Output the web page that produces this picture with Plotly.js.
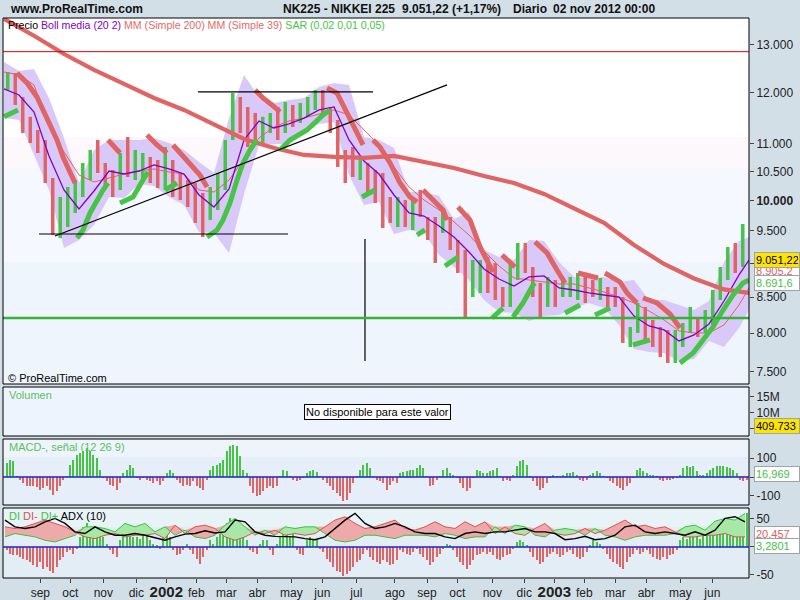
<!DOCTYPE html>
<html><head><meta charset="utf-8">
<script src="https://cdn.plot.ly/plotly-3.0.1.min.js"></script>
<style>html,body{margin:0;padding:0;background:#d3dfe7;}#chart{width:800px;height:600px;}</style>
</head><body><div id="chart"></div>
<script>
// ---------- DATA (x unit = weeks from start of chart) ----------
// Weekly price ranges (high / low) and direction (1 = up/green, 0 = down/red)
const weekHigh = [12418,12397,11906,11514,11262,11074,10387,10060,10231,10352,
10653,10889,11074,10653,10528,10834,11130,10889,10834,10762,
10707,10944,10707,10475,10352,10300,10128,10231,10475,11074,
11986,11906,11707,11590,11514,11590,11707,11806,11747,11786,
11906,12047,12047,11707,11453,10889,10944,10762,10653,10528,
10475,10060,10060,10009,10060,10179,9727,9727,9842,9727,
9357,9201,9047,9047,9093,9001,8645,9001,9310,9310,
8941,8703,8792,8747,8792,8792,8851,8792,8747,8777,
8645,8645,8500,8082,8415,8359,8177,8082,8041,8041,
8136,8359,8218,8316,8601,8941,9247,9310,9612];
const weekLow = [12047,11747,11205,11018,10834,10300,9436,9389,9564,9793,
10060,10352,10475,10231,10060,10179,10405,10352,10352,10300,
10214,10179,10060,10009,9892,9630,9405,9678,9842,10179,
11074,11205,10944,11074,11018,11205,11074,11205,11319,11396,
11514,11648,11514,11205,10582,10300,10405,10352,10128,9959,
9548,9630,9564,9564,9516,9727,9357,9001,9468,9201,
8851,8218,8500,8558,8558,8458,8359,8359,8747,8851,
8500,8218,8359,8359,8500,8500,8458,8415,8500,8458,
8316,8359,7867,7814,8001,7907,7814,7683,7606,7606,
7814,8001,7947,8001,8082,8458,8747,8851,8941];
const weekUp = [1,0,0,0,0,0,0,1,1,1, 1,1,0,0,0,1,0,1,1,0, 0,1,0,0,0,0,0,1,1,1,
1,0,0,0,1,1,0,1,0,1, 1,1,0,0,0,0,0,1,0,0, 0,0,1,0,1,0,0,0,1,0,
0,0,1,1,0,0,0,1,1,0, 0,0,1,0,1,1,1,0,0,1, 0,0,0,1,1,0,0,0,0,1,
1,1,0,1,1,1,1,0,1];

// Bollinger (20,2) bands, MA20 and MA39, read every 2 weeks (last point = right edge)
const bandT = [0,2,4,6,8,10,12,14,16,18,20,22,24,26,28,30,32,34,36,38,40,42,44,46,48,50,
52,54,56,58,60,62,64,66,68,70,72,74,76,78,80,82,84,86,88,90,92,94,96,98,99.33];
const bollUpper = [12630,12440,12480,11886,11110,10300,10890,11074,11074,11074,
11110,11018,10889,10670,10475,11490,12355,11906,11786,11846,
11886,12108,12190,12150,11130,11074,10925,10145,10145,10077,
9694,9810,9201,9093,9047,9357,9342,9016,8792,8777,
8792,8718,8747,8458,8458,8387,8316,8443,9016,9342,9405];
const bollLower = [11490,11453,10798,10179,9232,9357,9597,10060,10043,10283,
10248,10060,9925,9484,9468,9155,10111,10981,11000,11000,
11205,11377,11415,10440,9925,9975,9452,9516,9468,9124,
8941,8747,8458,8288,8274,8163,8232,8246,8344,8415,
8344,8109,7787,7747,7735,7632,7657,7894,7814,8068,8316];
const bollMid = [12068,11946,11609,10780,10179,9858,10162,10510,10457,10510,
10617,10546,10457,10094,9892,10196,11074,11434,11300,11377,
11490,11648,11707,11074,10689,10457,10094,9793,9743,9580,
9405,9170,8911,8762,8659,8792,8807,8630,8601,8558,
8529,8500,8232,8095,8041,7894,7974,8123,8443,8822,9047];
const ma39 = [12418,12355,12150,11358,10852,10440,10317,10387,10457,10510,
10546,10493,10457,10179,10145,10352,10725,11111,11319,11434,
11490,11571,11648,11552,11262,10981,10582,10231,10009,9842,
9646,9436,9185,8956,8777,8747,8718,8689,8689,8630,
8572,8500,8415,8302,8177,8028,8001,8001,8109,8387,8630];

// MA 200, read every 4 weeks
const ma200T = [0,4,8,12,16,20,24,28,32,36,40,44,48,52,56,60,64,68,72,76,80,84,88,92,96,99.33];
const ma200 = [13580,13200,12800,12460,12170,11886,11648,11377,11092,10926,10798,10762,10744,
10780,10671,10564,10422,10300,10111,9875,9630,9279,8986,8770,8610,8560];

// Parabolic SAR segments
const sarRedT = [[1.73,3.07,4.4,5.2,6.13,7.07,7.87,8.8,9.47],[13.87,14.67,15.47],[19.07,20.4,21.73],
[22.53,24.8,26.13,27.07],[33.47,34.53,35.73,36.8],[43.07,44.4,45.73,47.07,47.87],
[49.2,50.13,51.47,52.8,54.13,55.07],[55.87,57.2,58.53,59.07],[60.53,62.13,63.47,64.4,65.2],
[66.4,68.13],[70.8,72.4,73.73,74.8],[76.53,79.2],[80.13,82.13,83.07,84.4],[85.2,87.07,88.8,90.13]];
const sarRedP = [[12397,12190,11906,11648,11396,11074,10762,10475,10300],[11074,10963,10834],[11167,10981,10834],
[10981,10653,10440,10231],[12047,11886,11747,11609],[12088,11986,11590,11205,10981],
[11074,10944,10653,10300,10060,9975],[10179,10009,9842,9678],[9892,9678,9247,9047,8866],
[9124,8941],[9326,9155,8896,8703],[8851,8777],[8851,8718,8558,8415],[8486,8415,8260,8068]];
const sarGreenT = [[0,0.8,1.87],[9.73,10.53,11.47,12.4,13.2,13.87],[15.47,17.2,18.53,19.2],[21.47,23.07],
[27.07,28.4,29.2,30.13,31.07,31.87,32.8,33.73],[36.8,38.13,40.4,42.53,43.47],[47.73,49.47],
[55.07,56.13],[58.8,60.53],[65.07,66.53],[67.87,69.2,70.53,70.8],[74.8,76.8],[78.8,80.8],
[83.87,86.13],[90.13,91.87,93.2,94.53,95.87,97.2,98.53,99.33]];
const sarGreenP = [[11514,11571,11648],[9389,9516,9793,10009,10179,10300],[9959,10060,10352,10493],[10179,10300],
[9405,9516,9678,9959,10352,10653,10889,11074],[10889,11074,11262,11552,11648],[10060,10179],
[9436,9516],[8956,9093],[8205,8344],[8218,8415,8674,8703],[8274,8387],[8246,8344],
[7841,7907],[7606,7735,7907,8082,8316,8529,8703,8747]];

// Hand-drawn lines on the chart
const drawnT = [[6.8,59.07],[4.67,37.87],[25.87,49.2],[48.13,48.13]];
const drawnP = [[9420,12150],[9452,9452],[12007,12007],[9373,7632]];
const supportLevel = 8205;   // green horizontal
const resistLevel = 12850;   // red horizontal

// MACD histogram (12 26 9), sampled every 0.444 week
const macdHist = [74,91,82,4,-14,-32,-49,-49,-46,-53,-67,-58,-49,-67,-93,-75,-49,-14,4,65,
91,118,126,135,153,135,118,100,39,-5,-23,-40,-49,-67,-32,21,39,65,47,-5,
-14,-5,-14,-23,-32,-23,-40,-23,21,39,21,-14,-32,-49,-40,-49,-23,-49,-58,-67,
-14,39,56,65,74,91,135,161,170,161,109,39,21,-49,-84,-102,-93,-75,-58,-49,
-58,-49,4,39,30,4,-14,-23,-14,-5,21,30,35,25,4,-14,-32,-49,-67,-84,
-102,-128,-119,-84,-32,4,39,65,74,47,4,-14,-23,-32,-67,-40,-23,-32,
21,25,30,35,39,50,65,47,4,-49,-40,-14,4,39,47,21,12,-5,-32,-58,
-75,-58,-5,39,30,21,21,30,39,47,4,-23,-14,-23,12,56,82,91,65,4,
-23,-49,-67,-58,-32,-5,12,4,4,12,21,21,25,12,-14,-23,-14,12,21,30,
21,4,-5,-23,-32,-49,-58,-67,-49,-32,-5,39,47,30,21,12,12,4,-14,-23,
-14,-14,-10,-5,12,47,56,53,56,30,12,12,21,39,47,56,60,56,53,47,
39,21,-14,-23,-14];
// DI histogram, same sampling
const diHist = [-6,-12,-15,-15,-18,-21,-24,-27,-33,-36,-27,-39,-36,-42,-46,-36,-24,-18,-9,-6,
-12,-3,18,36,42,24,30,36,30,18,6,-6,-12,-18,12,36,18,30,18,18,
15,33,24,12,6,3,-3,18,24,18,-6,-15,-12,-6,6,-6,-12,-21,-30,-18,
-6,12,6,18,24,24,42,51,42,36,24,18,12,-6,-9,-12,6,12,12,-6,
-15,6,18,24,27,18,24,-6,-12,-15,12,18,15,12,-3,-9,-21,-27,-36,-42,
-45,-51,-48,-42,-36,-27,-24,-12,-6,-18,-24,-27,-30,-24,-27,-33,-30,-24,
-6,-9,-12,-15,-9,-3,-12,-18,-24,-33,-27,-18,-12,-3,6,3,-6,-18,-27,-33,
-39,-33,-24,-15,-12,-9,-12,-9,-15,-21,-24,-18,-15,-12,-3,9,12,9,3,-9,
-18,-24,-30,-27,-18,-12,-9,-12,-18,-15,-9,-6,-12,-18,-21,-18,-9,3,12,9,
6,-3,-12,-21,-27,-30,-36,-39,-27,-18,-12,-6,-12,-9,-6,-12,-18,-21,-24,-18,
-21,-15,-12,-6,12,18,15,21,18,24,15,27,30,36,33,42,48,45,48,42,
45,36,42,48,60];
// DI-, DI+, ADX(10) lines, sampled every 1.333 week
const diMinus = [36,33,36,42,48,42,36,27,18,15,21,24,18,21,21,24,15,39,24,36,
39,33,18,12,18,27,24,30,21,24,21,24,36,48,54,42,33,36,42,48,
33,30,36,45,36,33,45,36,45,24,36,24,21,33,42,24,21,24,33,24,
30,39,48,36,39,33,36,27,18,18,21,21,24,18,18];
const diPlus = [18,24,21,18,12,9,15,21,36,36,33,27,42,36,42,27,36,21,30,18,
15,21,39,51,36,21,30,21,36,33,36,36,24,12,9,12,21,21,18,15,
21,21,21,18,24,21,15,18,18,36,24,39,36,21,18,30,33,30,21,33,
21,18,12,18,21,21,21,24,36,39,30,46,51,48,60];
const adx = [48,36,33,36,45,51,42,27,24,36,27,21,21,24,21,17,12,18,23,24,
29,25,27,48,45,27,21,19,18,18,15,13,18,33,48,60,42,33,36,42,
36,27,24,24,18,15,24,27,24,27,27,30,33,27,27,24,13,15,19,13,
15,21,36,39,27,24,27,24,21,27,21,30,51,54,45];

// Axis ticks
const monthT = [4.84,8.84,13.24,17.64,21.64,25.64,29.64,33.77,38.31,42.44,46.97,52.13,
56.4,60.44,65.11,69.37,73.37,77.37,81.51,85.64,90.17,94.44];
const monthLabels = ['sep','oct','nov','dic','<b><span style="font-size:15px">2002</span></b>','feb','mar','abr','may','jun','jul','ago',
'sep','oct','nov','dic','<b><span style="font-size:15px">2003</span></b>','feb','mar','abr','may','jun'];
const priceTicks = [13000,12000,11000,10500,10000,9500,9000,8500,8000,7500];
const priceTickText = ['13.000','12.000','11.000','10.500','<b>10.000</b>','9.500','','8.500','8.000','7.500'];

// ---------- BUILD ----------
const FONT = 'Liberation Sans, Arial, sans-serif';
const RED = '#e06464', GREEN = '#46c446';
const px2x = px => (px - 3) / 746;
const py2y = py => (578 - py) / 560;
const weekT = weekHigh.map((_, i) => i + 0.5);
const histT = macdHist.map((_, k) => 0.3556 + 0.4444 * k);
const diT = diMinus.map((_, k) => (1 + 10 * k) / 7.5);

function flattenSegs(ts, ps) {
  const x = [], y = [];
  ts.forEach((seg, s) => { seg.forEach((t, j) => { x.push(t); y.push(ps[s][j]); }); x.push(null); y.push(null); });
  return {x, y};
}
function barSegs(flag) {
  const x = [], y = [];
  weekT.forEach((t, i) => { if (weekUp[i] === flag) { x.push(t, t, null); y.push(weekLow[i], weekHigh[i], null); } });
  return {x, y};
}
const base = {type: 'scatter', mode: 'lines', hoverinfo: 'skip', showlegend: false, xaxis: 'x'};
const traces = [];
traces.push(Object.assign({}, base, {x: bandT, y: bollLower, yaxis: 'y', line: {width: 0, color: 'rgba(0,0,0,0)'}}));
traces.push(Object.assign({}, base, {x: bandT, y: bollUpper, yaxis: 'y', fill: 'tonexty', fillcolor: '#d9c9f8', line: {width: 0, color: 'rgba(0,0,0,0)'}}));
const dn = barSegs(0), up = barSegs(1);
traces.push(Object.assign({}, base, {x: dn.x, y: dn.y, yaxis: 'y', line: {width: 3.5, color: RED}}));
traces.push(Object.assign({}, base, {x: up.x, y: up.y, yaxis: 'y', line: {width: 3.5, color: GREEN}}));
traces.push(Object.assign({}, base, {x: bandT, y: ma39, yaxis: 'y', line: {width: 1, color: RED}}));
traces.push(Object.assign({}, base, {x: bandT, y: bollMid, yaxis: 'y', line: {width: 1.3, color: '#8200c8'}}));
traces.push(Object.assign({}, base, {x: ma200T, y: ma200, yaxis: 'y', line: {width: 4.2, color: RED}}));
const sr = flattenSegs(sarRedT, sarRedP), sg = flattenSegs(sarGreenT, sarGreenP);
traces.push(Object.assign({}, base, {x: sr.x, y: sr.y, yaxis: 'y', line: {width: 5, color: RED}}));
traces.push(Object.assign({}, base, {x: sg.x, y: sg.y, yaxis: 'y', line: {width: 5, color: GREEN}}));
drawnT.forEach((t, i) => traces.push(Object.assign({}, base, {x: t, y: drawnP[i], yaxis: 'y', line: {width: 1.2, color: '#000'}})));
traces.push(Object.assign({}, base, {x: [-0.2, 99.5], y: [supportLevel, supportLevel], yaxis: 'y', line: {width: 2.5, color: '#36b236'}}));
traces.push(Object.assign({}, base, {x: [-0.2, 99.5], y: [resistLevel, resistLevel], yaxis: 'y', line: {width: 1, color: '#e00000'}}));
traces.push({type: 'bar', x: histT, y: macdHist, yaxis: 'y3', xaxis: 'x', width: 0.27, hoverinfo: 'skip', showlegend: false,
  marker: {color: macdHist.map(v => v >= 0 ? GREEN : RED), line: {width: 0}}});
const greenTop = diPlus.map((v, i) => Math.max(v, diMinus[i]));
const redTop = diMinus.map((v, i) => Math.max(v, diPlus[i]));
traces.push(Object.assign({}, base, {x: diT, y: diMinus, yaxis: 'y4', line: {width: 0, color: 'rgba(0,0,0,0)'}}));
traces.push(Object.assign({}, base, {x: diT, y: greenTop, yaxis: 'y4', fill: 'tonexty', fillcolor: '#a6e8a6', line: {width: 0, color: 'rgba(0,0,0,0)'}}));
traces.push(Object.assign({}, base, {x: diT, y: diPlus, yaxis: 'y4', line: {width: 0, color: 'rgba(0,0,0,0)'}}));
traces.push(Object.assign({}, base, {x: diT, y: redTop, yaxis: 'y4', fill: 'tonexty', fillcolor: '#eeaaaa', line: {width: 0, color: 'rgba(0,0,0,0)'}}));
traces.push({type: 'bar', x: histT, y: diHist, yaxis: 'y4', xaxis: 'x', width: 0.27, hoverinfo: 'skip', showlegend: false,
  marker: {color: diHist.map(v => v >= 0 ? GREEN : RED), line: {width: 0}}});
traces.push(Object.assign({}, base, {x: diT, y: diMinus, yaxis: 'y4', line: {width: 1, color: '#e05050'}}));
traces.push(Object.assign({}, base, {x: diT, y: diPlus, yaxis: 'y4', line: {width: 1, color: '#40c040'}}));
traces.push(Object.assign({}, base, {x: diT, y: adx, yaxis: 'y4', line: {width: 1.4, color: '#000'}}));
traces.push({type: 'scatter', x: [0], y: [1e7], yaxis: 'y2', xaxis: 'x', mode: 'markers', marker: {opacity: 0}, hoverinfo: 'skip', showlegend: false});

const tickFont = {family: FONT, size: 12, color: '#222'};
const yCommon = {side: 'right', anchor: 'x', ticks: 'outside', ticklen: 4, tickcolor: '#444', showgrid: false,
  zeroline: false, showline: false, tickfont: tickFont, fixedrange: true};

const rect = (py0, py1, fill, line) => ({type: 'rect', xref: 'paper', yref: 'paper', x0: 0, x1: 1, y0: py2y(py1), y1: py2y(py0),
  fillcolor: fill || 'rgba(0,0,0,0)', line: line ? {color: '#000', width: 1} : {width: 0}, layer: line ? 'above' : 'below'});
const shapes = [
  rect(18, 137, '#ffffff'), rect(137, 168, '#fdf8fc'), rect(168, 262, '#f5f8fe'), rect(262, 384, '#eff5fd'),
  rect(387, 436, '#eef4fd'),
  rect(439, 457, '#eef4fc'), rect(457, 505, '#e6eff9'),
  rect(508, 527, '#e8f3f7'), rect(527, 578, '#e3edf5'),
  rect(18, 384, null, true), rect(387, 436, null, true), rect(439, 505, null, true), rect(508, 578, null, true),
  {type: 'line', xref: 'paper', yref: 'y3', x0: 0, x1: 1, y0: 0, y1: 0, line: {color: '#2020c8', width: 1.5}},
  {type: 'line', xref: 'paper', yref: 'y4', x0: 0, x1: 1, y0: 0, y1: 0, line: {color: '#2020c8', width: 1.5}}
];

const ann = (px, py, text, opts) => Object.assign({xref: 'paper', yref: 'paper', x: px2x(px), y: py2y(py), xanchor: 'left', yanchor: 'middle',
  text, showarrow: false, font: {family: FONT, size: 11, color: '#000'}}, opts || {});
const box = (py, text, color, bg) => ann(754, py, text, {font: {family: FONT, size: 11, color}, bgcolor: bg, bordercolor: '#9aa4ac',
  borderwidth: 1, borderpad: 1, width: 42, align: 'left'});
const annotations = [
  ann(8, 9, '<b>www.ProRealTime.com</b>', {font: {family: FONT, size: 12, color: '#111'}}),
  ann(281, 9, '<b>NK225 - NIKKEI 225</b>', {font: {family: FONT, size: 12, color: '#111'}}),
  ann(400, 9, '<b>9.051,22 (+1,17%)</b>', {font: {family: FONT, size: 12, color: '#111'}}),
  ann(511, 9, '<b>Diario</b>', {font: {family: FONT, size: 12, color: '#111'}}),
  ann(551, 9, '<b>02 nov 2012 00:00</b>', {font: {family: FONT, size: 12, color: '#111'}}),
  ann(6, 25, 'Precio <span style="color:#8000c8">Boll media (20 2)</span> <span style="color:#e06a6a">MM (Simple 200) MM (Simple 39)</span> <span style="color:#44c444">SAR (0,02 0,01 0,05)</span>',
    {font: {family: FONT, size: 10.6, color: '#000'}}),
  ann(6, 378, '© ProRealTime.com'),
  ann(7, 395, 'Volumen', {font: {family: FONT, size: 11, color: '#5cc05c'}}),
  ann(377, 412, 'No disponible para este valor', {xanchor: 'center', font: {family: FONT, size: 11, color: '#000'}, bgcolor: '#fff',
    bordercolor: '#000', borderwidth: 1, borderpad: 1}),
  ann(7, 447, 'MACD-, señal (12 26 9)', {font: {family: FONT, size: 11, color: '#5cc05c'}}),
  ann(7, 516, '<span style="color:#44c044">DI</span> <span style="color:#e05050">DI-</span> <span style="color:#44c044">DI+</span> ADX (10)'),
  box(271, '8.905,2', '#e06060', '#ffffff'),
  box(260, '9.051,22', '#000', '#ffe400'),
  box(283, '8.691,6', '#44c044', '#ffffff'),
  box(426, '409.733', '#000', '#ffe400'),
  box(474, '16,969', '#44c044', '#ffffff'),
  box(534, '20,457', '#e06060', '#ffffff'),
  box(546, '3,2801', '#44c044', '#ffffff')
];

const layout = {
  width: 800, height: 600, margin: {l: 3, r: 51, t: 18, b: 22}, paper_bgcolor: '#d3dfe7', plot_bgcolor: '#d3dfe7',
  showlegend: false, hovermode: false, bargap: 0, font: {family: FONT},
  xaxis: {range: [-0.133, 99.33], anchor: 'y4', tickvals: monthT, ticktext: monthLabels, ticks: 'outside', ticklen: 4,
    tickcolor: '#444', showgrid: false, zeroline: false, showline: false, tickfont: tickFont, fixedrange: true},
  yaxis: Object.assign({}, yCommon, {type: 'log', domain: [py2y(384), 1], range: [Math.log10(7341.4), Math.log10(13600)],
    tickvals: priceTicks, ticktext: priceTickText}),
  yaxis2: Object.assign({}, yCommon, {domain: [py2y(436), py2y(387)], range: [2.8e6, 18.1e6], tickvals: [15e6, 10e6, 5e6], ticktext: ['15M', '10M', '']}),
  yaxis3: Object.assign({}, yCommon, {domain: [py2y(505), py2y(439)], range: [-147.4, 200], tickvals: [100, 0, -100], ticktext: ['100', '', '-100']}),
  yaxis4: Object.assign({}, yCommon, {domain: [0, py2y(508)], range: [-55.4, 69.6], tickvals: [50, 0, -50], ticktext: ['50', '', '-50']}),
  shapes, annotations
};
Plotly.newPlot('chart', traces, layout, {staticPlot: true, displayModeBar: false});
</script></body></html>
